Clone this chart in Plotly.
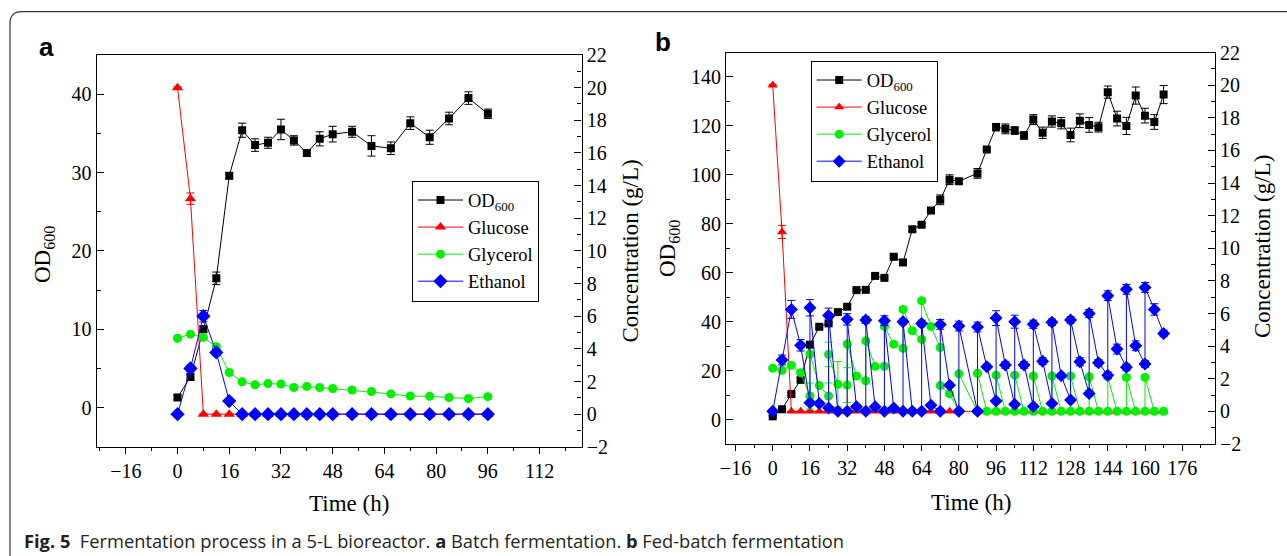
import plotly.graph_objects as go

W, H = 1287, 556

# ---------------- Panel a: batch fermentation ----------------
t_a = [0, 4, 8, 12, 16, 20, 24, 28, 32, 36, 40, 44, 48, 54, 60, 66, 72, 78, 84, 90, 96]
od_a = [1.3, 3.9, 10.0, 16.5, 29.6, 35.4, 33.5, 33.8, 35.5, 34.1, 32.5, 34.3, 34.9, 35.2,
        33.4, 33.1, 36.3, 34.5, 36.9, 39.5, 37.5]
od_a_err = [0.3, 0.4, 0.4, 0.8, 0.4, 0.9, 0.8, 0.7, 1.3, 0.6, 0.4, 0.9, 1.0, 0.7,
            1.3, 0.8, 0.8, 0.9, 0.8, 0.8, 0.6]
glc_a = [20.0, 13.2, 0, 0, 0, 0, 0, 0, 0, 0, 0, 0, 0, 0, 0, 0, 0, 0, 0, 0, 0]
glc_a_err = [0.05, 0.35, 0.05, 0, 0, 0, 0, 0, 0, 0, 0, 0, 0, 0, 0, 0, 0, 0, 0, 0, 0]
gly_a = [4.65, 4.9, 4.7, 4.13, 2.55, 1.98, 1.8, 1.87, 1.85, 1.63, 1.7, 1.63, 1.57, 1.48,
         1.39, 1.24, 1.11, 1.09, 1.02, 0.96, 1.07]
eth_a = [0, 2.8, 6.0, 3.78, 0.8, 0, 0, 0, 0, 0, 0, 0, 0, 0, 0, 0, 0, 0, 0, 0, 0]
eth_a_err = [0.05, 0.2, 0.35, 0.2, 0.1, 0, 0, 0, 0, 0, 0, 0, 0, 0, 0, 0, 0, 0, 0, 0, 0]

# ---------------- Panel b: fed-batch fermentation ----------------
t_b = [0, 4, 8, 12, 16, 20, 24, 28, 32, 36, 40, 44, 48, 52, 56, 60, 64, 68, 72, 76, 80,
       88, 92, 96, 100, 104, 108, 112, 116, 120, 124, 128, 132, 136, 140, 144, 148, 152,
       156, 160, 164, 168]
od_b = [1.3, 4.2, 10.4, 16.2, 30.6, 37.9, 39.3, 43.9, 46.1, 52.9, 53.0, 58.7, 57.9, 66.5,
        64.2, 77.8, 79.6, 85.4, 89.8, 98.0, 97.4, 100.6, 110.4, 119.5, 118.8, 118.1, 116.1,
        122.6, 117.2, 121.8, 121.1, 116.3, 122.1, 120.4, 119.5, 133.8, 123.0, 120.0, 132.4,
        124.2, 121.6, 132.8]
od_b_err = [0.3, 0.5, 0.5, 0.6, 1.0, 0.5, 0.5, 0.5, 0.8, 0.5, 0.5, 0.6, 0.5, 0.5, 0.5, 1.0,
            0.5, 0.5, 2.0, 2.0, 1.0, 2.0, 0.5, 1.5, 2.0, 1.5, 1.5, 2.0, 2.3, 2.3, 2.3, 2.8,
            2.8, 3.0, 2.0, 2.5, 3.0, 3.5, 3.5, 3.0, 3.0, 3.7]
glc_b = [20.0, 11.0] + [0] * 40
glc_b_err = [0.05, 0.4] + [0] * 40

t_gly_b = [0, 4, 8, 12, 16, 16, 20, 24, 24, 28, 32, 32, 36, 40, 40, 44, 48, 48, 52, 56, 56,
           60, 64, 64, 68, 72, 72, 76, 80, 80, 88, 88, 92, 96, 96, 100, 104, 104, 108, 112,
           112, 116, 120, 120, 124, 128, 128, 132, 136, 136, 140, 144, 144, 148, 152, 152,
           156, 160, 160, 164, 168]
gly_b = [2.65, 2.52, 2.82, 2.37, 0.94, 3.51, 1.58, 0.94, 3.49, 1.66, 1.61, 4.13, 2.17, 1.88,
         4.32, 2.76, 2.76, 5.21, 4.12, 3.86, 6.25, 4.94, 4.41, 6.78, 5.21, 3.91, 1.58, 1.08,
         0, 2.30, 0, 2.33, 0, 0, 2.22, 0, 0, 2.22, 0, 0, 2.17, 0, 0, 2.17, 0, 0, 2.17, 0, 0,
         2.12, 0, 0, 2.12, 0, 0, 2.08, 0, 0, 2.08, 0, 0]
gly_b_err = [0.1, 0.1, 0.1, 0.1, 0.8, 0.1, 0.1, 0.8, 0.75, 1.39, 1.07, 0.1, 0.1, 0.1, 0.1,
             0.1, 0.1, 0.1, 0.1, 0.1, 0.1, 0.1, 0.1, 0.1, 0.1, 0.1, 0.1, 0.1, 0.05, 0.1,
             0.05, 0.1, 0.05, 0.05, 0.1, 0.05, 0.05, 0.1, 0.05, 0.05, 0.1, 0.05, 0.05, 0.1,
             0.05, 0.05, 0.1, 0.05, 0.05, 0.1, 0.05, 0.05, 0.1, 0.05, 0.05, 0.1, 0.05, 0.05,
             0.1, 0.05, 0.05]

t_eth_b = [0, 4, 8, 12, 16, 16, 20, 24, 24, 28, 32, 32, 36, 40, 40, 44, 48, 48, 52, 56, 56,
           60, 64, 64, 68, 72, 72, 76, 80, 80, 88, 88, 92, 96, 96, 100, 104, 104, 108, 112,
           112, 116, 120, 120, 124, 128, 128, 132, 136, 136, 140, 144, 144, 148, 152, 152,
           156, 160, 160, 164, 168]
eth_b = [0, 3.15, 6.25, 4.05, 0.53, 6.35, 0.49, 0.2, 5.88, 0, 0, 5.64, 0.28, 0, 5.6, 0.28,
         0, 5.56, 0.2, 0, 5.5, 0, 0, 5.39, 0.38, 0, 5.33, 1.6, 0, 5.23, 0, 5.17, 2.74, 0.63,
         5.72, 2.84, 0.43, 5.5, 2.84, 0.3, 5.34, 3.08, 0.49, 5.46, 2.18, 0.69, 5.6, 3.04, 1.1,
         6.0, 2.98, 2.22, 7.09, 3.82, 2.70, 7.48, 4.02, 2.9, 7.6, 6.25, 4.78]
eth_b_err = [0.05, 0.3, 0.55, 0.35, 0.1, 0.5, 0.1, 0.1, 0.45, 0.05, 0.05, 0.35, 0.1, 0.05,
             0.2, 0.1, 0.05, 0.3, 0.05, 0.05, 0.15, 0.05, 0.05, 0.2, 0.1, 0.05, 0.3, 0.1,
             0.05, 0.3, 0.05, 0.3, 0.15, 0.1, 0.45, 0.2, 0.1, 0.4, 0.2, 0.1, 0.25, 0.2, 0.1,
             0.2, 0.15, 0.1, 0.2, 0.25, 0.15, 0.25, 0.2, 0.2, 0.3, 0.3, 0.2, 0.3, 0.3, 0.2,
             0.3, 0.35, 0.2]

legend_names = ["OD<sub>600</sub>", "Glucose", "Glycerol", "Ethanol"]
colors = ["#000000", "#ff0000", "#00f000", "#0000ff"]
symbols = ["square", "triangle-up", "circle", "diamond"]

SERIF = "Liberation Serif"
SANS = "Liberation Sans"


def px_x(p):
    return p / W


def px_y(p):
    return 1 - p / H


fig = go.Figure()


def add(x, y, err, i, xa, ya, legend, size):
    fig.add_trace(go.Scatter(
        x=x, y=y, mode="lines+markers", name=legend_names[i],
        xaxis=xa, yaxis=ya, legend=legend,
        line=dict(color=colors[i], width=1),
        marker=dict(symbol=symbols[i], color=colors[i], size=size,
                    line=dict(width=0)),
        error_y=dict(type="data", array=err, visible=True, color=colors[i],
                     thickness=1, width=4),
    ))


# panel a
add(t_a, od_a, od_a_err, 0, "x", "y", "legend", 8)
add(t_a, glc_a, glc_a_err, 1, "x", "y2", "legend", 10)
add(t_a, gly_a, [0.08] * len(t_a), 2, "x", "y2", "legend", 9)
add(t_a, eth_a, eth_a_err, 3, "x", "y2", "legend", 11)
# panel b
add(t_b, od_b, od_b_err, 0, "x2", "y3", "legend2", 8)
add(t_b, glc_b, glc_b_err, 1, "x2", "y4", "legend2", 9)
add(t_gly_b, gly_b, gly_b_err, 2, "x2", "y4", "legend2", 9)
add(t_eth_b, eth_b, eth_b_err, 3, "x2", "y4", "legend2", 10)

tickfont = dict(family=SERIF, size=20, color="black")
common_x = dict(showline=True, linecolor="black", linewidth=1.3, mirror=True,
                ticks="outside", ticklen=6, tickwidth=1.2, tickcolor="black",
                tickmode="linear", tick0=0, dtick=16, showgrid=False, zeroline=False,
                tickfont=tickfont, automargin=False,
                minor=dict(dtick=8, ticks="outside", ticklen=3, tickcolor="black"))
common_y = dict(showline=True, linecolor="black", linewidth=1.3,
                ticks="inside", ticklen=7, tickwidth=1.2, tickcolor="black",
                tickmode="linear", tick0=0, showgrid=False, zeroline=False,
                tickfont=tickfont, automargin=False)

dom_a_x = [px_x(96.7), px_x(581.6)]
dom_a_y = [px_y(446.8), px_y(55.0)]
dom_b_x = [px_x(726.2), px_x(1214.8)]
dom_b_y = [px_y(444.0), px_y(52.5)]

legend_font = dict(family=SERIF, size=18.5, color="black")
fig.update_layout(
    width=W, height=H, margin=dict(l=0, r=0, t=0, b=0), autosize=False,
    paper_bgcolor="white", plot_bgcolor="white",
    xaxis=dict(domain=dom_a_x, anchor="y", range=[-25, 125], **common_x),
    yaxis=dict(domain=dom_a_y, anchor="x", range=[-5, 45], dtick=10,
               minor=dict(dtick=5, ticks="inside", ticklen=4, tickcolor="black"), **common_y),
    yaxis2=dict(overlaying="y", anchor="x", side="right", range=[-2.0001, 22.0001], dtick=2,
                minor=dict(dtick=1, ticks="inside", ticklen=4, tickcolor="black"), **common_y),
    xaxis2=dict(domain=dom_b_x, anchor="y3", range=[-20, 190], **common_x),
    yaxis3=dict(domain=dom_b_y, anchor="x2", range=[-10, 150], dtick=20,
                minor=dict(dtick=10, ticks="inside", ticklen=4, tickcolor="black"), **common_y),
    yaxis4=dict(overlaying="y3", anchor="x2", side="right", range=[-2.0001, 22.0001], dtick=2,
                minor=dict(dtick=1, ticks="inside", ticklen=4, tickcolor="black"), **common_y),
    legend=dict(x=px_x(412), y=px_y(180.5), xanchor="left", yanchor="top",
                bordercolor="black", borderwidth=1, bgcolor="white", itemwidth=45,
                font=legend_font, tracegroupgap=0),
    legend2=dict(x=px_x(810.7), y=px_y(60.5), xanchor="left", yanchor="top",
                 bordercolor="black", borderwidth=1, bgcolor="white", itemwidth=45,
                 font=legend_font, tracegroupgap=0),
    showlegend=True,
)

title_font = dict(family=SERIF, size=23, color="black")
ann = [
    dict(text="Time (h)", x=px_x(348.6), y=px_y(503.5), font=title_font),
    dict(text="Time (h)", x=px_x(971), y=px_y(502), font=title_font),
    dict(text="OD<sub>600</sub>", x=px_x(44), y=px_y(255), font=title_font, textangle=-90),
    dict(text="Concentration (g/L)", x=px_x(629.6), y=px_y(251), font=title_font, textangle=-90),
    dict(text="OD<sub>600</sub>", x=px_x(669), y=px_y(249), font=title_font, textangle=-90),
    dict(text="Concentration (g/L)", x=px_x(1262), y=px_y(247), font=title_font, textangle=-90),
    dict(text="<b>a</b>", x=px_x(46.5), y=px_y(47), font=dict(family=SANS, size=26, color="black")),
    dict(text="<b>b</b>", x=px_x(663.5), y=px_y(42), font=dict(family=SANS, size=26, color="black")),
]
for a in ann:
    fig.add_annotation(xref="paper", yref="paper", xanchor="center", yanchor="middle",
                       showarrow=False, **a)

fig.add_annotation(
    xref="paper", yref="paper", x=px_x(22), y=px_y(540), xanchor="left", yanchor="middle",
    showarrow=False,
    text="<b>Fig. 5</b>  Fermentation process in a 5-L bioreactor. <b>a</b> Batch fermentation. "
         "<b>b</b> Fed-batch fermentation",
    font=dict(family="Open Sans", size=18.3, color="#231f20"),
)

# rounded frame around the figure
x0, yt, r = 10, 11.7, 12
path = (f"M 1.0,{px_y(yt)} L {px_x(x0 + r)},{px_y(yt)} "
        f"Q {px_x(x0)},{px_y(yt)} {px_x(x0)},{px_y(yt + r)} L {px_x(x0)},0")
fig.add_shape(type="path", xref="paper", yref="paper", path=path,
              line=dict(color="#333333", width=1.2))

fig.write_html(
    "out.html",
    config={"displayModeBar": False},
    post_script="document.body.style.margin='0px';document.body.style.overflow='hidden';",
)
